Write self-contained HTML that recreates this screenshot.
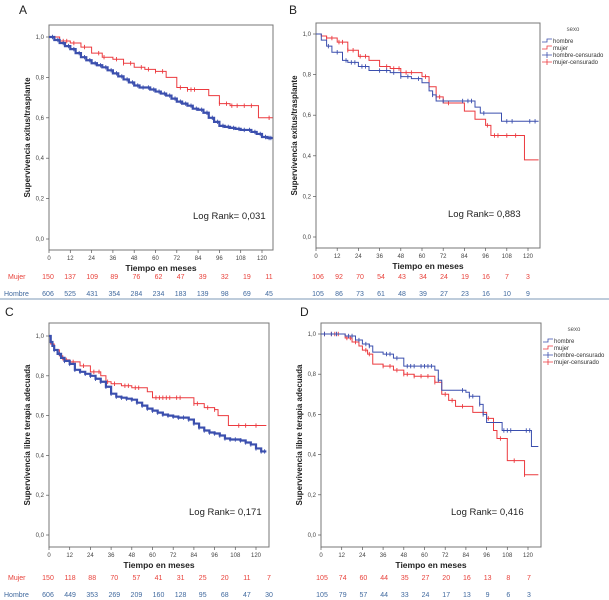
<!DOCTYPE html>
<html><head><meta charset="utf-8">
<style>
html,body{margin:0;padding:0;background:#fff;}
svg{display:block;font-family:"Liberation Sans",Arial,sans-serif;}
</style></head>
<body>
<svg id="fig" width="609" height="600" viewBox="0 0 609 600" xmlns="http://www.w3.org/2000/svg">
<line x1="0" y1="299" x2="609" y2="299" stroke="#a9bccf" stroke-width="1.5"/>
</svg>
<script>
// ---- data ----
const xTicks = [0,12,24,36,48,60,72,84,96,108,120];
const yTicks = [0,0.2,0.4,0.6,0.8,1.0];
const yTickLabels = ["0,0","0,2","0,4","0,6","0,8","1,0"];

const aRedT = [0,6,12,18,24,30,36,42,48,54,60,66,72,78,84,90,96,102,118,126];
const aRedS = [1,0.98,0.97,0.95,0.92,0.90,0.89,0.87,0.85,0.84,0.83,0.80,0.75,0.74,0.74,0.71,0.67,0.66,0.60,0.60];
const aBlueT = [0,3,6,9,12,15,18,21,24,27,30,33,36,39,42,45,48,51,54,57,60,63,66,69,72,75,78,81,84,87,90,93,96,99,102,105,108,111,114,117,120,123,126];
const aBlueS = [1,0.985,0.97,0.955,0.94,0.92,0.90,0.885,0.87,0.86,0.85,0.835,0.82,0.805,0.79,0.775,0.76,0.75,0.75,0.74,0.73,0.72,0.71,0.695,0.68,0.67,0.66,0.645,0.64,0.625,0.60,0.58,0.56,0.555,0.55,0.545,0.54,0.54,0.53,0.52,0.505,0.50,0.50];
const aRedC = [8,10,14,20,28,31,38,42,46,52,56,60,64,74,78,80,82,96,100,103,106,110,114,124];
const aBlueC = [2,5,8,11,14,17,20,23,26,29,32,35,38,41,44,47,50,53,56,59,62,65,68,71,74,77,80,83,86,89,92,95,98,101,104,107,110,113,116,119,122,124,125];
const aMujer = [150,137,109,89,76,62,47,39,32,19,11];
const aHombre = [606,525,431,354,284,234,183,139,98,69,45];

const bRedT = [0,3,6,12,18,24,30,36,42,48,60,64,68,72,84,90,96,99,118,126];
const bRedS = [1,0.99,0.98,0.96,0.92,0.89,0.87,0.84,0.83,0.81,0.79,0.74,0.69,0.66,0.62,0.58,0.55,0.50,0.38,0.38];
const bBlueT = [0,3,6,9,15,18,24,30,42,48,54,60,64,66,68,90,93,105,126];
const bBlueS = [1,0.97,0.94,0.91,0.87,0.86,0.84,0.82,0.81,0.79,0.78,0.76,0.72,0.70,0.67,0.64,0.61,0.57,0.57];
const bRedC = [6,9,13,15,18,21,25,28,40,44,47,51,54,62,68,70,75,97,101,103,108,113];
const bBlueC = [7,12,17,20,22,26,28,36,40,44,48,52,58,66,72,83,86,88,95,108,111,121,124];
const bMujer = [106,92,70,54,43,34,24,19,16,7,3];
const bHombre = [105,86,73,61,48,39,27,23,16,10,9];

const cRedT = [0,1,3,6,8,12,18,24,30,33,36,42,48,57,60,84,90,96,98,104,126];
const cRedS = [1,0.96,0.93,0.90,0.88,0.87,0.85,0.82,0.80,0.77,0.76,0.75,0.74,0.72,0.69,0.66,0.64,0.63,0.60,0.55,0.55];
const cBlueT = [0,1,2,3,5,7,9,12,15,18,21,24,27,30,33,36,39,42,45,48,51,54,57,60,63,66,69,72,75,78,81,84,87,90,93,96,99,102,105,108,111,114,117,120,123,126];
const cBlueS = [1,0.97,0.95,0.93,0.91,0.89,0.875,0.86,0.83,0.82,0.81,0.80,0.785,0.77,0.745,0.71,0.695,0.69,0.685,0.68,0.665,0.65,0.635,0.625,0.615,0.605,0.60,0.595,0.59,0.59,0.58,0.56,0.54,0.525,0.515,0.51,0.50,0.485,0.48,0.48,0.475,0.465,0.455,0.435,0.42,0.42];
const cRedC = [10,14,20,26,29,34,38,44,46,50,52,62,64,66,68,70,74,76,84,86,92,96,110,114,120];
const cBlueC = [3,6,9,12,15,18,21,24,27,30,33,36,39,42,45,48,51,54,57,60,63,66,69,72,75,78,81,84,87,90,93,96,99,102,105,108,111,114,117,120,123,125];
const cMujer = [150,118,88,70,57,41,31,25,20,11,7];
const cHombre = [606,449,353,269,209,160,128,95,68,47,30];

const dRedT = [0,12,14,18,22,24,27,30,36,42,48,54,66,70,74,78,88,96,100,102,108,118,126];
const dRedS = [1,1,0.98,0.96,0.94,0.92,0.90,0.85,0.84,0.82,0.80,0.79,0.76,0.70,0.67,0.64,0.61,0.58,0.52,0.48,0.37,0.30,0.30];
const dBlueT = [0,14,20,24,28,30,36,42,48,66,68,70,84,86,92,94,96,105,120,122,126];
const dBlueS = [1,0.99,0.97,0.95,0.94,0.91,0.90,0.88,0.84,0.82,0.77,0.72,0.71,0.69,0.65,0.60,0.56,0.52,0.52,0.44,0.44];
const dRedC = [2,6,8,10,15,17,20,26,28,36,40,44,48,50,54,58,62,66,72,76,82,94,97,104,112,118];
const dBlueC = [2,6,9,16,18,22,26,28,38,40,44,50,52,54,58,60,62,64,68,82,86,88,92,94,106,108,110,119,121];
const dMujer = [105,74,60,44,35,27,20,16,13,8,7];
const dHombre = [105,79,57,44,33,24,17,13,9,6,3];

// ---- drawing ----
const NS = "http://www.w3.org/2000/svg";
const svg = document.getElementById("fig");
const RED = "#ec3a3f", BLUE = "#3b4fae", NRED = "#e8413a", NBLUE = "#40699e";
function mk(tag, attrs, parent){ const e=document.createElementNS(NS,tag); for(const k in attrs) e.setAttribute(k,attrs[k]); (parent||svg).appendChild(e); return e; }
function txt(s, attrs, parent){ const e=mk("text",attrs,parent); e.textContent=s; return e; }
function survAt(T,S,t){ let v=S[0]; for(let i=0;i<T.length;i++){ if(T[i]<=t) v=S[i]; } return v; }

function panel(p){
  const g = mk("g",{});
  
  
  const X = t => p.x0 + (t/120)*(p.x120-p.x0);
  const Y = s => p.y0 + s*(p.y1-p.y0);
  const lbl = txt(p.letter,{x:p.lx,y:p.ly,"font-size":12,fill:"#222"},g);
  
  
  const box = mk("rect",{x:p.bx0,y:p.by0,width:p.bx1-p.bx0,height:p.by1-p.by0,fill:"#fff",stroke:"#777","stroke-width":1},g);
  
  
  yTicks.forEach((v,i)=>{
    const t = mk("line",{x1:p.bx0-3,x2:p.bx0,y1:Y(v),y2:Y(v),stroke:"#555","stroke-width":0.7},g);
    
    
    const l = txt(yTickLabels[i],{x:p.bx0-5,y:Y(v)+2,"font-size":6,fill:"#444","text-anchor":"end"},g);
    
    
  });
  xTicks.forEach(v=>{
    const t = mk("line",{x1:X(v),x2:X(v),y1:p.by1,y2:p.by1+3,stroke:"#555","stroke-width":0.7},g);
    
    
    const l = txt(String(v),{x:X(v),y:p.by1+10,"font-size":6,fill:"#444","text-anchor":"middle"},g);
    
    
  });
  const xt = txt("Tiempo en meses",{x:(p.bx0+p.bx1)/2,y:p.by1+21,"font-size":8.5,"font-weight":"bold",fill:"#222","text-anchor":"middle"},g);
  
  
  const ymid=(p.by0+p.by1)/2;
  const yt = txt(p.ytitle,{x:p.ytx,y:ymid,"font-size":8,"font-weight":"bold",fill:"#222","text-anchor":"middle",transform:`rotate(-90 ${p.ytx} ${ymid})`},g);
  
  
  const lr = txt(p.logrank,{x:p.lrx,y:Y(0.0)-20,"font-size":9.5,fill:"#222"},g);
  
  

  function series(T,S,C,color,w,nm){
    let d = `M${X(T[0])},${Y(S[0])}`;
    for(let i=1;i<T.length;i++){ d += ` H${X(T[i])} V${Y(S[i])}`; }
    const path = mk("path",{d:d,fill:"none",stroke:color,"stroke-width":w},g);
    
    
    C.forEach(t=>{
      const cy = Y(survAt(T,S,t)), cx = X(t);
      const c = mk("path",{d:`M${cx},${cy-2.2} V${cy+2.2}`,stroke:color,"stroke-width":0.9},g);
      
      
    });
  }
  series(p.rT,p.rS,p.rC,RED,1,"mujer");
  series(p.bT,p.bS,p.bC,BLUE,p.bw,"hombre");

  if(p.rowLabels){
    const m = txt("Mujer",{x:8,y:p.ry1,"font-size":7,fill:NRED},g);
    
    
    const h = txt("Hombre",{x:4,y:p.ry2,"font-size":7,fill:NBLUE},g);
    
    
  }
  p.mujer.forEach((v,i)=>{
    const x = p.nx0 + i*(p.nx1-p.nx0)/10;
    const a = txt(String(v),{x:x,y:p.ry1,"font-size":7,fill:NRED,"text-anchor":"middle"},g);
    
    
  });
  p.hombre.forEach((v,i)=>{
    const x = p.nx0 + i*(p.nx1-p.nx0)/10;
    const a = txt(String(v),{x:x,y:p.ry2,"font-size":7,fill:NBLUE,"text-anchor":"middle"},g);
    
    
  });

  if(p.legend){
    const lg = mk("g",{},g);
    
    
    const lx = p.bx1+2, ly = p.by0+8;
    txt("sexo",{x:lx+31,y:ly,"font-size":6,fill:"#555","text-anchor":"middle"},lg);
    const items=[["hombre",BLUE,"step"],["mujer",RED,"step"],["hombre-censurado",BLUE,"cross"],["mujer-censurado",RED,"cross"]];
    items.forEach((it,i)=>{
      const y = ly+11+i*7;
      if(it[2]==="step") mk("path",{d:`M${lx},${y} H${lx+5} V${y-3} H${lx+10}`,fill:"none",stroke:it[1],"stroke-width":0.8},lg);
      else { mk("path",{d:`M${lx},${y-1} H${lx+10} M${lx+5},${y-4} V${y+2}`,stroke:it[1],"stroke-width":0.8},lg); }
      const e = txt(it[0],{x:lx+11,y:y+1,"font-size":6,fill:"#333"},lg);
      
      
    });
  }
}

panel({name:"panel-a",letter:"A",lx:19,ly:14,bx0:49,bx1:273,by0:25,by1:250,x0:49,x120:262,y1:37,y0:239,
  ytitle:"Supervivencia exitus/trasplante",ytx:30,logrank:"Log Rank= 0,031",lrx:193,
  rT:aRedT,rS:aRedS,rC:aRedC,bT:aBlueT,bS:aBlueS,bC:aBlueC,bw:2.2,
  mujer:aMujer,hombre:aHombre,nx0:48,nx1:269,ry1:279,ry2:296,rowLabels:true,legend:false});
panel({name:"panel-b",letter:"B",lx:289,ly:14,bx0:316,bx1:540,by0:23,by1:248,x0:316,x120:528,y1:34,y0:237,
  ytitle:"Supervivencia exitus/trasplante",ytx:297,logrank:"Log Rank= 0,883",lrx:448,
  rT:bRedT,rS:bRedS,rC:bRedC,bT:bBlueT,bS:bBlueS,bC:bBlueC,bw:1,
  mujer:bMujer,hombre:bHombre,nx0:318,nx1:528,ry1:279,ry2:296,rowLabels:false,legend:true});
panel({name:"panel-c",letter:"C",lx:5,ly:316,bx0:49,bx1:269,by0:323,by1:547,x0:49,x120:256,y1:336,y0:535,
  ytitle:"Supervivencia libre terapia adecuada",ytx:30,logrank:"Log Rank= 0,171",lrx:189,
  rT:cRedT,rS:cRedS,rC:cRedC,bT:cBlueT,bS:cBlueS,bC:cBlueC,bw:2.2,
  mujer:cMujer,hombre:cHombre,nx0:48,nx1:269,ry1:580,ry2:597,rowLabels:true,legend:false});
panel({name:"panel-d",letter:"D",lx:300,ly:316,bx0:321,bx1:541,by0:323,by1:547,x0:321,x120:528,y1:334,y0:535,
  ytitle:"Supervivencia libre terapia adecuada",ytx:302,logrank:"Log Rank= 0,416",lrx:451,
  rT:dRedT,rS:dRedS,rC:dRedC,bT:dBlueT,bS:dBlueS,bC:dBlueC,bw:1,
  mujer:dMujer,hombre:dHombre,nx0:322,nx1:529,ry1:580,ry2:597,rowLabels:false,legend:true});
</script>
</body></html>
